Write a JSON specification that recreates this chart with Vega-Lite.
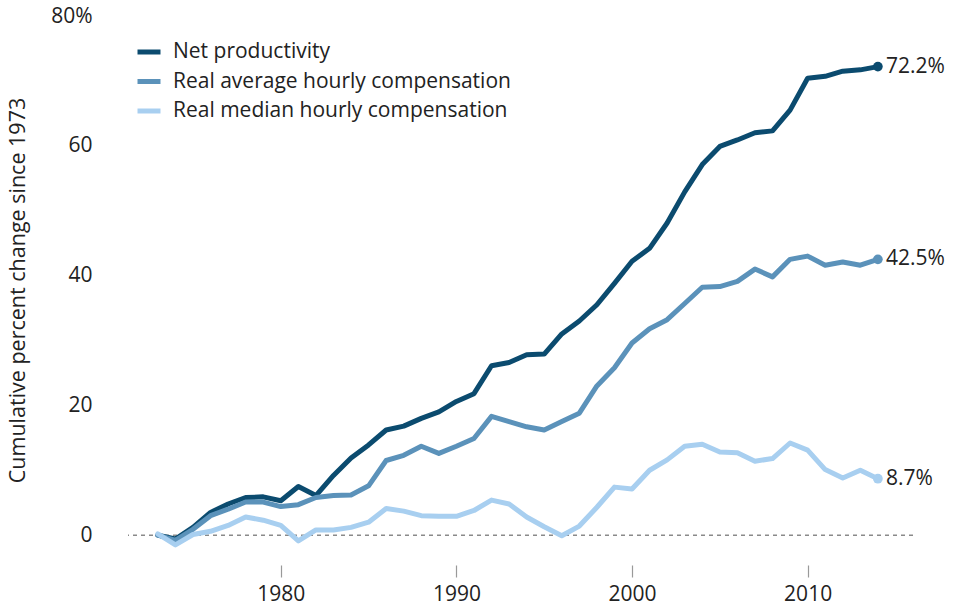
{
  "$schema": "https://vega.github.io/schema/vega-lite/v6.json",
  "width": 785,
  "height": 549,
  "autosize": {"type": "none"},
  "padding": {"left": 128, "top": 16, "right": 42, "bottom": 45},
  "background": "white",
  "config": {"font": "Open Sans", "view": {"stroke": null}},
  "datasets": {
    "series": [
      {"year": 1973, "series": "Net productivity", "value": 0},
      {"year": 1974, "series": "Net productivity", "value": -0.6},
      {"year": 1975, "series": "Net productivity", "value": 1.2},
      {"year": 1976, "series": "Net productivity", "value": 3.5},
      {"year": 1977, "series": "Net productivity", "value": 4.8},
      {"year": 1978, "series": "Net productivity", "value": 5.8},
      {"year": 1979, "series": "Net productivity", "value": 5.9},
      {"year": 1980, "series": "Net productivity", "value": 5.3},
      {"year": 1981, "series": "Net productivity", "value": 7.5},
      {"year": 1982, "series": "Net productivity", "value": 6.1},
      {"year": 1983, "series": "Net productivity", "value": 9.2},
      {"year": 1984, "series": "Net productivity", "value": 11.9},
      {"year": 1985, "series": "Net productivity", "value": 13.9},
      {"year": 1986, "series": "Net productivity", "value": 16.2},
      {"year": 1987, "series": "Net productivity", "value": 16.8},
      {"year": 1988, "series": "Net productivity", "value": 18.0},
      {"year": 1989, "series": "Net productivity", "value": 19.0},
      {"year": 1990, "series": "Net productivity", "value": 20.6},
      {"year": 1991, "series": "Net productivity", "value": 21.8},
      {"year": 1992, "series": "Net productivity", "value": 26.1},
      {"year": 1993, "series": "Net productivity", "value": 26.6},
      {"year": 1994, "series": "Net productivity", "value": 27.8},
      {"year": 1995, "series": "Net productivity", "value": 27.9},
      {"year": 1996, "series": "Net productivity", "value": 31.0},
      {"year": 1997, "series": "Net productivity", "value": 33.0},
      {"year": 1998, "series": "Net productivity", "value": 35.5},
      {"year": 1999, "series": "Net productivity", "value": 38.8},
      {"year": 2000, "series": "Net productivity", "value": 42.2},
      {"year": 2001, "series": "Net productivity", "value": 44.2},
      {"year": 2002, "series": "Net productivity", "value": 48.1},
      {"year": 2003, "series": "Net productivity", "value": 52.9},
      {"year": 2004, "series": "Net productivity", "value": 57.1},
      {"year": 2005, "series": "Net productivity", "value": 59.9},
      {"year": 2006, "series": "Net productivity", "value": 60.9},
      {"year": 2007, "series": "Net productivity", "value": 62.0},
      {"year": 2008, "series": "Net productivity", "value": 62.3},
      {"year": 2009, "series": "Net productivity", "value": 65.5},
      {"year": 2010, "series": "Net productivity", "value": 70.4},
      {"year": 2011, "series": "Net productivity", "value": 70.7},
      {"year": 2012, "series": "Net productivity", "value": 71.5},
      {"year": 2013, "series": "Net productivity", "value": 71.7},
      {"year": 2014, "series": "Net productivity", "value": 72.2},
      {"year": 1973, "series": "Real average hourly compensation", "value": 0},
      {"year": 1974, "series": "Real average hourly compensation", "value": -0.8},
      {"year": 1975, "series": "Real average hourly compensation", "value": 0.9},
      {"year": 1976, "series": "Real average hourly compensation", "value": 3.0},
      {"year": 1977, "series": "Real average hourly compensation", "value": 4.0},
      {"year": 1978, "series": "Real average hourly compensation", "value": 5.1},
      {"year": 1979, "series": "Real average hourly compensation", "value": 5.1},
      {"year": 1980, "series": "Real average hourly compensation", "value": 4.4},
      {"year": 1981, "series": "Real average hourly compensation", "value": 4.7},
      {"year": 1982, "series": "Real average hourly compensation", "value": 5.8},
      {"year": 1983, "series": "Real average hourly compensation", "value": 6.1},
      {"year": 1984, "series": "Real average hourly compensation", "value": 6.2},
      {"year": 1985, "series": "Real average hourly compensation", "value": 7.6},
      {"year": 1986, "series": "Real average hourly compensation", "value": 11.5},
      {"year": 1987, "series": "Real average hourly compensation", "value": 12.3},
      {"year": 1988, "series": "Real average hourly compensation", "value": 13.7},
      {"year": 1989, "series": "Real average hourly compensation", "value": 12.6},
      {"year": 1990, "series": "Real average hourly compensation", "value": 13.7},
      {"year": 1991, "series": "Real average hourly compensation", "value": 14.9},
      {"year": 1992, "series": "Real average hourly compensation", "value": 18.3},
      {"year": 1993, "series": "Real average hourly compensation", "value": 17.5},
      {"year": 1994, "series": "Real average hourly compensation", "value": 16.7},
      {"year": 1995, "series": "Real average hourly compensation", "value": 16.2},
      {"year": 1996, "series": "Real average hourly compensation", "value": 17.5},
      {"year": 1997, "series": "Real average hourly compensation", "value": 18.8},
      {"year": 1998, "series": "Real average hourly compensation", "value": 23.0},
      {"year": 1999, "series": "Real average hourly compensation", "value": 25.8},
      {"year": 2000, "series": "Real average hourly compensation", "value": 29.6},
      {"year": 2001, "series": "Real average hourly compensation", "value": 31.8},
      {"year": 2002, "series": "Real average hourly compensation", "value": 33.2},
      {"year": 2003, "series": "Real average hourly compensation", "value": 35.7},
      {"year": 2004, "series": "Real average hourly compensation", "value": 38.2},
      {"year": 2005, "series": "Real average hourly compensation", "value": 38.3},
      {"year": 2006, "series": "Real average hourly compensation", "value": 39.1},
      {"year": 2007, "series": "Real average hourly compensation", "value": 41.0},
      {"year": 2008, "series": "Real average hourly compensation", "value": 39.8},
      {"year": 2009, "series": "Real average hourly compensation", "value": 42.5},
      {"year": 2010, "series": "Real average hourly compensation", "value": 43.0},
      {"year": 2011, "series": "Real average hourly compensation", "value": 41.6},
      {"year": 2012, "series": "Real average hourly compensation", "value": 42.1},
      {"year": 2013, "series": "Real average hourly compensation", "value": 41.6},
      {"year": 2014, "series": "Real average hourly compensation", "value": 42.5},
      {"year": 1973, "series": "Real median hourly compensation", "value": 0.2},
      {"year": 1974, "series": "Real median hourly compensation", "value": -1.5},
      {"year": 1975, "series": "Real median hourly compensation", "value": 0.1},
      {"year": 1976, "series": "Real median hourly compensation", "value": 0.6},
      {"year": 1977, "series": "Real median hourly compensation", "value": 1.5},
      {"year": 1978, "series": "Real median hourly compensation", "value": 2.8},
      {"year": 1979, "series": "Real median hourly compensation", "value": 2.3},
      {"year": 1980, "series": "Real median hourly compensation", "value": 1.5},
      {"year": 1981, "series": "Real median hourly compensation", "value": -0.9},
      {"year": 1982, "series": "Real median hourly compensation", "value": 0.8},
      {"year": 1983, "series": "Real median hourly compensation", "value": 0.8},
      {"year": 1984, "series": "Real median hourly compensation", "value": 1.2},
      {"year": 1985, "series": "Real median hourly compensation", "value": 2.0},
      {"year": 1986, "series": "Real median hourly compensation", "value": 4.1},
      {"year": 1987, "series": "Real median hourly compensation", "value": 3.7},
      {"year": 1988, "series": "Real median hourly compensation", "value": 3.0},
      {"year": 1989, "series": "Real median hourly compensation", "value": 2.9},
      {"year": 1990, "series": "Real median hourly compensation", "value": 2.9},
      {"year": 1991, "series": "Real median hourly compensation", "value": 3.8},
      {"year": 1992, "series": "Real median hourly compensation", "value": 5.4},
      {"year": 1993, "series": "Real median hourly compensation", "value": 4.8},
      {"year": 1994, "series": "Real median hourly compensation", "value": 2.8},
      {"year": 1995, "series": "Real median hourly compensation", "value": 1.3},
      {"year": 1996, "series": "Real median hourly compensation", "value": -0.1},
      {"year": 1997, "series": "Real median hourly compensation", "value": 1.4},
      {"year": 1998, "series": "Real median hourly compensation", "value": 4.3},
      {"year": 1999, "series": "Real median hourly compensation", "value": 7.4},
      {"year": 2000, "series": "Real median hourly compensation", "value": 7.1},
      {"year": 2001, "series": "Real median hourly compensation", "value": 10.0},
      {"year": 2002, "series": "Real median hourly compensation", "value": 11.6},
      {"year": 2003, "series": "Real median hourly compensation", "value": 13.7},
      {"year": 2004, "series": "Real median hourly compensation", "value": 14.0},
      {"year": 2005, "series": "Real median hourly compensation", "value": 12.8},
      {"year": 2006, "series": "Real median hourly compensation", "value": 12.7},
      {"year": 2007, "series": "Real median hourly compensation", "value": 11.4},
      {"year": 2008, "series": "Real median hourly compensation", "value": 11.8},
      {"year": 2009, "series": "Real median hourly compensation", "value": 14.2},
      {"year": 2010, "series": "Real median hourly compensation", "value": 13.1},
      {"year": 2011, "series": "Real median hourly compensation", "value": 10.1},
      {"year": 2012, "series": "Real median hourly compensation", "value": 8.8},
      {"year": 2013, "series": "Real median hourly compensation", "value": 10.0},
      {"year": 2014, "series": "Real median hourly compensation", "value": 8.7}
    ]
  },
  "layer": [
    {
      "data": {"values": [{"v": 0}]},
      "mark": {"type": "rule", "color": "#8a8a8a", "strokeDash": [4, 4], "strokeWidth": 1.5},
      "encoding": {
        "y": {"field": "v", "type": "quantitative", "scale": {"domain": [-4.6, 80], "nice": false, "zero": false}}
      }
    },
    {
      "data": {"name": "series"},
      "mark": {"type": "line", "strokeWidth": 5, "strokeJoin": "round", "strokeCap": "round"},
      "encoding": {
        "x": {
          "field": "year", "type": "quantitative",
          "scale": {"domain": [1971.3, 2016], "nice": false, "zero": false},
          "axis": {
            "values": [1980, 1990, 2000, 2010], "format": "d", "title": null,
            "domain": false, "grid": false, "tickSize": 12, "tickColor": "#999999", "tickWidth": 1.2,
            "labelFontSize": 21, "labelColor": "#222222", "labelPadding": 6
          }
        },
        "y": {
          "field": "value", "type": "quantitative",
          "scale": {"domain": [-4.6, 80], "nice": false, "zero": false},
          "axis": {
            "values": [0, 20, 40, 60, 80],
            "labelExpr": "datum.value == 80 ? '80%' : datum.label",
            "title": "Cumulative percent change since 1973",
            "titleFontSize": 21.5, "titleFontWeight": "normal", "titleColor": "#222222",
            "titleX": -110, "titleY": 274, "titleAngle": -90, "titleAlign": "center", "titleBaseline": "middle",
            "domain": false, "grid": false, "ticks": false,
            "labelFontSize": 21, "labelColor": "#222222", "labelPadding": 36
          }
        },
        "color": {
          "field": "series", "type": "nominal",
          "scale": {
            "domain": ["Net productivity", "Real average hourly compensation", "Real median hourly compensation"],
            "range": ["#0b4b6f", "#5b92ba", "#a8cff0"]
          },
          "legend": {
            "orient": "none", "legendX": 7, "legendY": 22, "title": null,
            "symbolType": "stroke", "symbolStrokeWidth": 5, "symbolSize": 529,
            "labelFontSize": 21, "labelColor": "#222222", "labelOffset": 10, "rowPadding": 5.5, "labelLimit": 0
          }
        }
      }
    },
    {
      "data": {"name": "series"},
      "transform": [{"filter": "datum.year == 2014"}],
      "mark": {"type": "point", "filled": true, "size": 95, "opacity": 1},
      "encoding": {
        "x": {"field": "year", "type": "quantitative"},
        "y": {"field": "value", "type": "quantitative"},
        "color": {"field": "series", "type": "nominal", "legend": null}
      }
    },
    {
      "data": {"name": "series"},
      "transform": [
        {"filter": "datum.year == 2014"},
        {"calculate": "format(datum.value, '.1f') + '%'", "as": "lab"}
      ],
      "mark": {"type": "text", "align": "left", "baseline": "middle", "dx": 8, "fontSize": 21, "color": "#222222"},
      "encoding": {
        "x": {"field": "year", "type": "quantitative"},
        "y": {"field": "value", "type": "quantitative"},
        "text": {"field": "lab"}
      }
    }
  ]
}
